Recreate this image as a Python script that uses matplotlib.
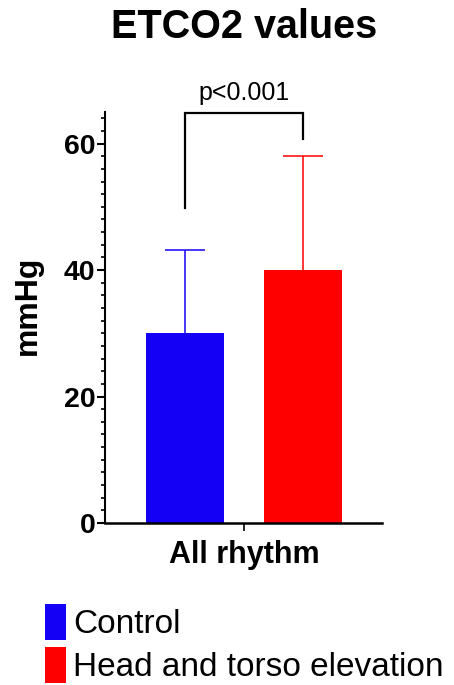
import matplotlib
matplotlib.use("Agg")
import matplotlib.pyplot as plt
from matplotlib.patches import Patch
from matplotlib.ticker import MultipleLocator

plt.rcParams['font.family'] = ['Liberation Sans', 'DejaVu Sans']

groups = ["Control", "Head and torso elevation"]
means = [30.1, 40.0]
sds = [13.0, 18.1]
colors = ["#1400F5", "#FF0000"]
category = "All rhythm"
p_text = "p<0.001"
bracket_left_bottom = 49.8
bracket_right_bottom = 60.8
bracket_top = 64.9

fig = plt.figure(figsize=(4.54, 6.85), dpi=100)
ax = fig.add_axes([105/454, 162/685, 277/454, 411/685])

xs = [-0.5, 0.5]
cap_half = 0.17
for x, m, s, c in zip(xs, means, sds, colors):
    ax.bar(x, m, width=0.66, color=c, zorder=2)
    ax.vlines(x, m, m + s, color=c, lw=1.1, zorder=1)
    ax.hlines(m + s, x - cap_half, x + cap_half, color=c, lw=1.1, zorder=1)

ax.set_xlim(-1.178, 1.169)
ax.set_ylim(0, 65)
ax.set_xticks([0])
ax.set_xticklabels([category], fontsize=22, fontweight='bold')
ax.set_yticks([0, 20, 40, 60])
ax.yaxis.set_minor_locator(MultipleLocator(2))
ax.tick_params(axis='y', which='major', length=6, width=1.5, labelsize=20.5, pad=1)
ax.tick_params(axis='y', which='minor', length=3, width=1.2)
ax.tick_params(axis='x', which='major', length=6, width=1.2, pad=6)
for lab in ax.get_yticklabels():
    lab.set_fontweight('bold')
ax.spines['top'].set_visible(False)
ax.spines['right'].set_visible(False)
ax.spines['left'].set_linewidth(1.5)
ax.spines['bottom'].set_linewidth(1.8)
ax.set_ylabel("mmHg", fontsize=23, fontweight='bold')
ax.yaxis.set_label_coords((43 - 105) / 277, (523 - 305) / 411)

ax.plot([xs[0], xs[0], xs[1], xs[1]],
        [bracket_left_bottom, bracket_top, bracket_top, bracket_right_bottom],
        color='black', lw=1.6, clip_on=False, solid_joinstyle='miter')
ax.text(0, bracket_top + 1.2, p_text, ha='center', va='bottom', fontsize=18,
        clip_on=False)

fig.text(244/454, 1 - 27/685, "ETCO2 values", ha='center', va='center',
         fontsize=28.5, fontweight='bold')

handles = [Patch(facecolor=c, edgecolor='none') for c in colors]
fig.legend(handles, groups, loc='upper left', bbox_to_anchor=(45/454, 1 - 604/685),
           frameon=False, fontsize=24, handlelength=0.63, handleheight=1.3,
           handletextpad=0.22, labelspacing=0.2, borderpad=0, borderaxespad=0)

fig.savefig("out.png", dpi=100)
